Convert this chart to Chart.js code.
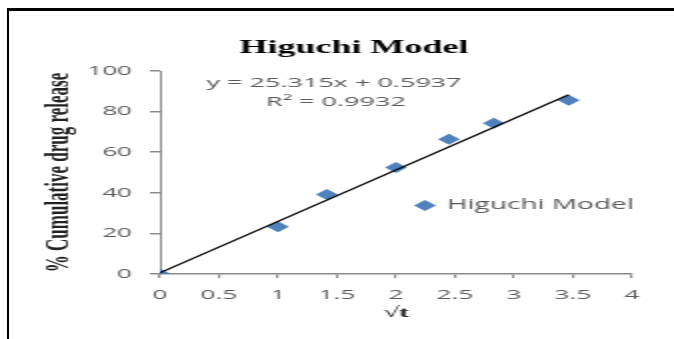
<!DOCTYPE html>
<html>
<head>
<meta charset="utf-8">
<title>Higuchi Model</title>
<script src="https://cdn.jsdelivr.net/npm/chart.js@4/dist/chart.umd.min.js"></script>
<style>
  html, body { margin: 0; padding: 0; background: #fff; overflow: hidden; }
  #page { position: relative; width: 674px; height: 339px; overflow: hidden; background: #fff; }
  /* wide figure: the chart is laid out at half width and stretched horizontally */
  #stretch { position: absolute; left: 0; top: 0; width: 337px; height: 339px;
             transform: scaleX(2); transform-origin: 0 0; }
  #stretch canvas { display: block; }
  #frame { position: absolute; left: 7px; top: 8px; width: 700px; height: 400px;
           border-left: 2px solid #000; border-top: 3px solid #000; box-sizing: border-box; }
</style>
</head>
<body>
<div id="page">
  <div id="stretch"><canvas id="chart" width="337" height="339"></canvas></div>
  <div id="frame"></div>
</div>
<script>
// √t (square root of time) and % cumulative drug release
const sqrtTime = [0, 1, 1.414, 2, 2.449, 2.828, 3.464];
const cumulativeRelease = [0, 23.3, 39.2, 52.5, 66.4, 74.3, 85.6];

// linear trendline as reported on the chart
const trendSlope = 25.315;
const trendIntercept = 0.5937;
const trendR2 = 0.9932;

// axis ticks
const xTicks = [0, 0.5, 1, 1.5, 2, 2.5, 3, 3.5, 4];
const yTicks = [0, 20, 40, 60, 80, 100];

const seriesName = 'Higuchi Model';
const seriesColor = '#4F81BD';
const tickColor = '#595959';
const axisColor = '#8A8A8A';

const points = sqrtTime.map((x, i) => ({ x: x, y: cumulativeRelease[i] }));
const trendX = [sqrtTime[0], sqrtTime[sqrtTime.length - 1]];
const trendPoints = trendX.map(x => ({ x: x, y: trendSlope * x + trendIntercept }));

const fmt = v => String(v);
const equationText = 'y = ' + trendSlope + 'x + ' + trendIntercept;
const r2Text = 'R\u00B2 = ' + trendR2;

// equation label and in-plot legend
const overlayPlugin = {
  id: 'overlay',
  afterDraw(chart) {
    const ctx = chart.ctx;
    ctx.save();
    ctx.fillStyle = tickColor;
    ctx.font = '13.5px "Open Sans"';
    ctx.textAlign = 'center';
    ctx.textBaseline = 'middle';
    ctx.fillText(equationText, 167, 83);
    ctx.fillText(r2Text, 168, 102);

    // legend entry
    const lx = 212.5, ly = 205.5, r = 5.5;
    ctx.fillStyle = seriesColor;
    ctx.beginPath();
    ctx.moveTo(lx - r, ly);
    ctx.lineTo(lx, ly - r);
    ctx.lineTo(lx + r, ly);
    ctx.lineTo(lx, ly + r);
    ctx.closePath();
    ctx.fill();
    ctx.fillStyle = tickColor;
    ctx.font = '14px "Open Sans"';
    ctx.textAlign = 'left';
    ctx.fillText(seriesName, 223.5, ly);
    ctx.restore();
  }
};

new Chart(document.getElementById('chart'), {
  data: {
    datasets: [
      {
        type: 'line',
        label: 'Linear (' + seriesName + ')',
        data: trendPoints,
        borderColor: '#000',
        borderWidth: 1.2,
        pointRadius: 0,
        fill: false,
        order: 0
      },
      {
        type: 'scatter',
        label: seriesName,
        data: points,
        pointStyle: 'rectRot',
        pointRadius: 5.5,
        pointBackgroundColor: seriesColor,
        pointBorderWidth: 0,
        order: 1
      }
    ]
  },
  plugins: [overlayPlugin],
  options: {
    responsive: false,
    animation: false,
    devicePixelRatio: 1,
    events: [],
    layout: { padding: { left: 38, right: 21, top: 0, bottom: 0 } },
    plugins: {
      legend: { display: false },
      tooltip: { enabled: false },
      title: {
        display: true,
        text: seriesName,
        color: '#000',
        font: { family: '"Liberation Serif"', size: 18, weight: 'bold' },
        padding: { top: 38, bottom: 11.4 }
      }
    },
    scales: {
      x: {
        type: 'linear',
        min: 0,
        max: 4,
        afterBuildTicks: s => { s.ticks = xTicks.map(v => ({ value: v })); },
        afterFit: s => { s.height = 65; },
        ticks: {
          color: tickColor,
          font: { family: '"Open Sans"', size: 13 },
          padding: 9,
          callback: v => fmt(v)
        },
        grid: { drawOnChartArea: false, drawTicks: true, tickLength: 4, color: axisColor, lineWidth: 1.2 },
        border: { color: axisColor, width: 1.5 },
        title: {
          display: true,
          text: '\u221At',
          color: '#222',
          font: { family: '"Liberation Serif"', size: 15, weight: 'bold' },
          padding: { top: 0, bottom: 17 }
        }
      },
      y: {
        type: 'linear',
        min: 0,
        max: 100,
        afterBuildTicks: s => { s.ticks = yTicks.map(v => ({ value: v })); },
        afterFit: s => { s.width = 42; },
        ticks: {
          color: tickColor,
          font: { family: '"Open Sans"', size: 13 },
          padding: 9,
          callback: v => fmt(v)
        },
        grid: { drawOnChartArea: false, drawTicks: true, tickLength: 5, color: axisColor, lineWidth: 1.5 },
        border: { color: axisColor, width: 1 },
        title: {
          display: true,
          text: '% Cumulative drug release',
          color: '#222',
          font: { family: '"Liberation Serif"', size: 17, weight: 'bold' },
          padding: { top: -18.2, bottom: 0 }
        }
      }
    }
  }
});
</script>
</body>
</html>
